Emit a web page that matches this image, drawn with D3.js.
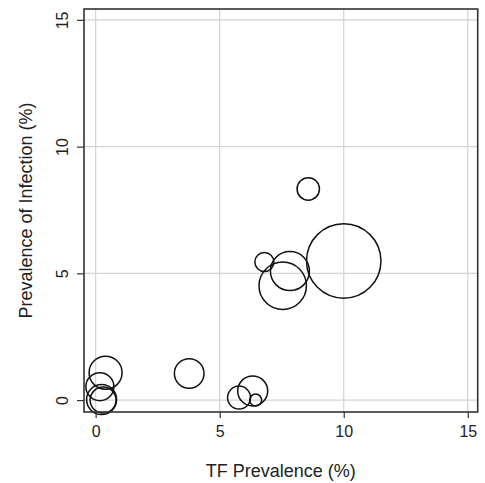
<!DOCTYPE html>
<html>
<head>
<meta charset="utf-8">
<script src="https://cdn.jsdelivr.net/npm/d3@7"></script>
<style>
  html, body { margin: 0; padding: 0; background: #fff; }
  svg { display: block; }
  text { font-family: "Liberation Sans", Arial, sans-serif; fill: #222; }
</style>
</head>
<body>
<svg id="chart" width="485" height="483"></svg>
<script>
// Study-level prevalence estimates; bubble area reflects study weight
const tfPrevalence        = [8.57, 10.0, 6.8, 7.83, 7.54, 3.77, 0.40, 0.17, 0.24, 0.30, 5.78, 6.33, 6.45];
const infectionPrevalence = [8.33, 5.49, 5.45, 5.09, 4.51, 1.05, 1.08, 0.53, 0.02, 0.0, 0.10, 0.36, 0.0];
const studyWeights        = [125, 1384, 90, 380, 562, 219, 272, 196, 225, 169, 132, 225, 36];

const xTicks = [0, 5, 10, 15];
const yTicks = [0, 5, 10, 15];

const svg = d3.select("#chart");
const plotLeft = 84, plotRight = 477.7, plotTop = 9, plotBottom = 412;

const x = d3.scaleLinear().domain([-0.47, 15.4]).range([plotLeft, plotRight]);
const y = d3.scaleLinear().domain([-0.47, 15.43]).range([plotBottom, plotTop]);
const r = d3.scaleSqrt().domain([0, d3.max(studyWeights)]).range([0, 37.2]);

// grid
svg.append("g").selectAll("line").data(xTicks).join("line")
  .attr("x1", d => x(d)).attr("x2", d => x(d))
  .attr("y1", plotTop).attr("y2", plotBottom)
  .attr("stroke", "#d3d3d3").attr("stroke-width", 1.2);
svg.append("g").selectAll("line").data(yTicks).join("line")
  .attr("y1", d => y(d)).attr("y2", d => y(d))
  .attr("x1", plotLeft).attr("x2", plotRight)
  .attr("stroke", "#d3d3d3").attr("stroke-width", 1.2);

// bubbles
const data = tfPrevalence.map((v, i) => ({ x: v, y: infectionPrevalence[i], w: studyWeights[i] }));
svg.append("g").selectAll("circle").data(data).join("circle")
  .attr("cx", d => x(d.x)).attr("cy", d => y(d.y)).attr("r", d => r(d.w))
  .attr("fill", "none").attr("stroke", "#111").attr("stroke-width", 1.5);

// frame
svg.append("rect")
  .attr("x", plotLeft).attr("y", plotTop)
  .attr("width", plotRight - plotLeft).attr("height", plotBottom - plotTop)
  .attr("fill", "none").attr("stroke", "#333").attr("stroke-width", 1.6);

// x axis
const xAxis = svg.append("g").attr("transform", `translate(0,${plotBottom})`)
  .call(d3.axisBottom(x).tickValues(xTicks).tickSize(6).tickPadding(8).tickFormat(d3.format("d")));
xAxis.select(".domain").remove();
xAxis.selectAll("line").attr("stroke", "#333").attr("stroke-width", 1.2);
xAxis.selectAll("text").attr("font-size", 16).attr("font-family", "Liberation Sans, Arial, sans-serif").attr("fill", "#222");

// y axis with labels turned to read upward
const yAxis = svg.append("g").attr("transform", `translate(${plotLeft},0)`)
  .call(d3.axisLeft(y).tickValues(yTicks).tickSize(7).tickFormat(d3.format("d")));
yAxis.select(".domain").remove();
yAxis.selectAll("line").attr("stroke", "#333").attr("stroke-width", 1.2);
yAxis.selectAll("text")
  .attr("font-size", 16).attr("font-family", "Liberation Sans, Arial, sans-serif").attr("fill", "#222")
  .attr("x", null).attr("dy", null)
  .attr("text-anchor", "middle")
  .attr("transform", "translate(-15.7,0) rotate(-90)");

// axis titles
svg.append("text")
  .attr("x", (plotLeft + plotRight) / 2).attr("y", 477)
  .attr("text-anchor", "middle").attr("font-size", 18)
  .text("TF Prevalence (%)");
svg.append("text")
  .attr("transform", `translate(31.5,${(plotTop + plotBottom) / 2}) rotate(-90)`)
  .attr("text-anchor", "middle").attr("font-size", 18)
  .text("Prevalence of Infection (%)");
</script>
</body>
</html>
